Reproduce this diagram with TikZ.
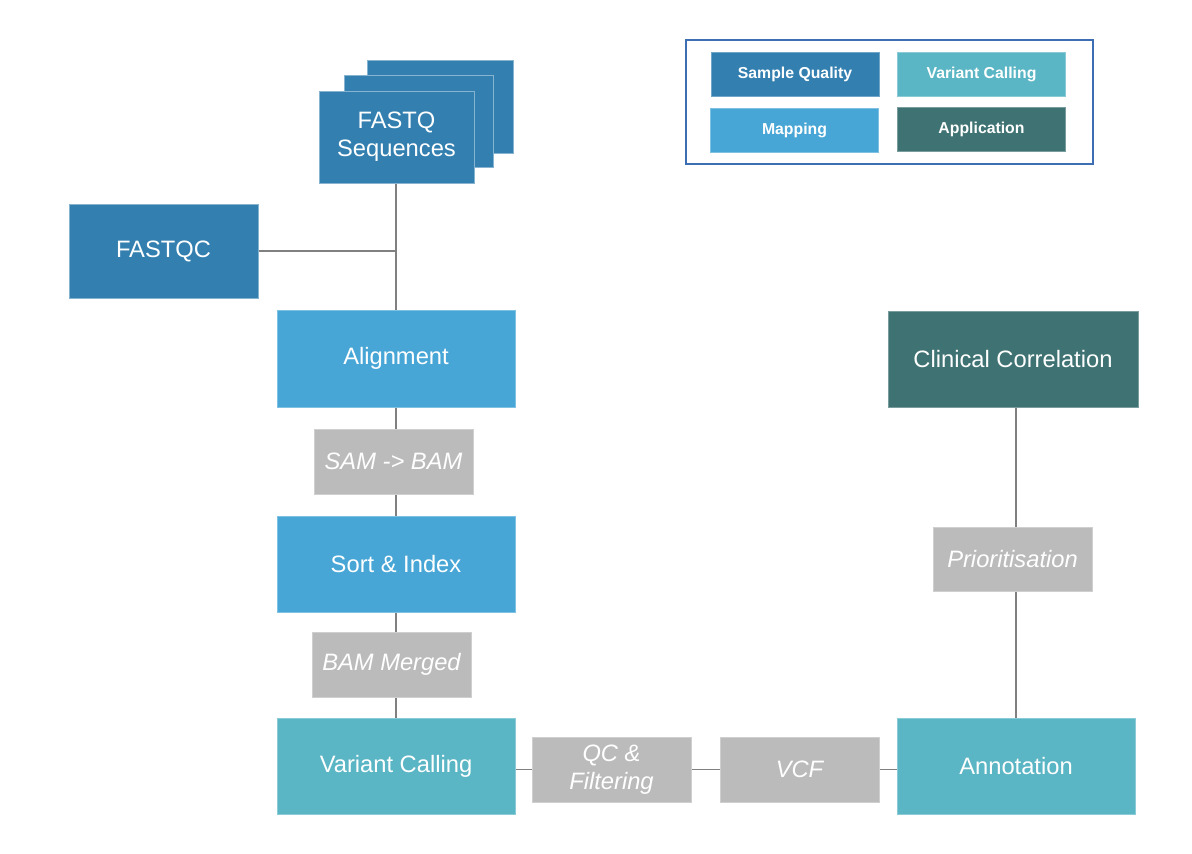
\documentclass[tikz,border=0pt]{standalone}
\usepackage{fontspec}
\setmainfont{Liberation Sans}
\usetikzlibrary{backgrounds}
\definecolor{cQuality}{HTML}{3380B0}
\definecolor{cMapping}{HTML}{47A6D6}
\definecolor{cVariant}{HTML}{5AB5C4}
\definecolor{cApplication}{HTML}{3F7272}
\definecolor{cStep}{HTML}{BBBBBB}
\definecolor{cLine}{HTML}{808080}
\definecolor{cFrame}{HTML}{3D6DB3}
\tikzset{
  px/.style={x=0.02cm,y=-0.02cm},
  wh/.style 2 args={minimum width=#1*0.02cm,minimum height=#2*0.02cm},
  stage/.style={rectangle,inner sep=2pt,align=center,text=white,
    font=\fontsize{13.5}{16}\selectfont},
  sq/.style={stage,fill=cQuality,draw=cQuality!60!white,line width=0.4pt},
  mapbox/.style={stage,fill=cMapping,draw=cMapping!70!white,line width=0.3pt},
  varbox/.style={stage,fill=cVariant,draw=cVariant!70!white,line width=0.3pt},
  appbox/.style={stage,fill=cApplication,draw=cApplication!70!white,line width=0.3pt},
  stepbox/.style={stage,fill=cStep,draw=cStep!70!white,line width=0.3pt,
    font=\fontsize{13.5}{16}\selectfont\itshape},
  keybox/.style={rectangle,text=white,font=\fontsize{9}{11}\selectfont\bfseries,
    minimum width=3.36cm,minimum height=0.88cm,line width=0.3pt},
  link/.style={draw=cLine,line width=1.1pt},
}
\begin{document}
\begin{tikzpicture}[px]
\useasboundingbox (0,0) rectangle (1192,853);

% stacked FASTQ files
\node[sq,wh={146}{93}] (fq3) at (440,106.5) {};
\node[sq,wh={149}{92}] (fq2) at (418.5,121) {};
\node[sq,wh={155}{92}] (fastq) at (396.5,137) {FASTQ\\Sequences};

\node[sq,wh={189}{94}] (fastqc) at (163.5,251) {FASTQC};

% mapping stages
\node[mapbox,wh={238}{97}] (align) at (396,358.5) {Alignment};
\node[stepbox,wh={159}{65}] (sambam) at (393.5,461.5) {SAM -> BAM};
\node[mapbox,wh={238}{96}] (sort) at (396,564) {Sort \& Index};
\node[stepbox,wh={159}{65}] (merged) at (391.5,664.5) {BAM Merged};

% variant calling and downstream
\node[varbox,wh={238}{96}] (vcall) at (396,766) {Variant Calling};
\node[stepbox,wh={159}{65}] (qcfilt) at (611.5,769.5) {QC \&\\Filtering};
\node[stepbox,wh={159}{65}] (vcf) at (799.5,769.5) {VCF};
\node[varbox,wh={238}{96}] (annot) at (1016,766) {Annotation};
\node[stepbox,wh={159}{64}] (prio) at (1012.5,559) {Prioritisation};
\node[appbox,wh={250}{96}] (clin) at (1013,359) {Clinical Correlation};

\coordinate (qcjoin) at (align.north |- fastqc.east);

% connectors, kept behind the boxes
\begin{scope}[on background layer]
  \fill[white] (0,0) rectangle (1192,853);
  \draw[link] (align.north |- fastq.south) -- (align.north);
  \draw[link] (fastqc.east) -- (qcjoin);
  \draw[link] ([yshift=-2pt]vcall.east) -- ([yshift=-2pt]annot.west);
  \draw[link] (align.south) -- (sort.north);
  \draw[link] (sort.south) -- (vcall.north);
  \draw[link] (annot.north |- clin.south) -- (annot.north);
\end{scope}

% legend
\draw[cFrame,line width=1.2pt] (686,40) rectangle (1093,164);
\node[keybox,fill=cQuality,draw=cQuality!70!white] (kq) at (795,74) {Sample Quality};
\node[keybox,fill=cVariant,draw=cVariant!70!white] (kv) at (981.5,74) {Variant Calling};
\node[keybox,fill=cMapping,draw=cMapping!70!white] (km) at (794.5,130) {Mapping};
\node[keybox,fill=cApplication,draw=cApplication!70!white] (ka) at (981.5,129.5) {Application};
\end{tikzpicture}
\end{document}
